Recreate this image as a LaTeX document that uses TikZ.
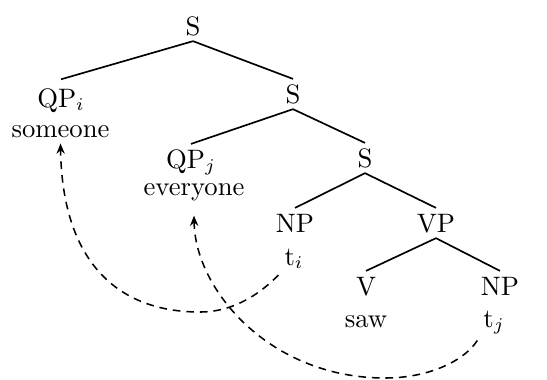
\documentclass[tikz,border=0pt]{standalone}
\usetikzlibrary{arrows.meta}
\begin{document}
\begin{tikzpicture}[x=0.39pt,y=-0.39pt,
  every node/.style={font=\fontsize{10.4}{12}\selectfont, inner sep=2.2pt},
  cat/.style={anchor=base, text height=7pt, text depth=0pt},
  word/.style={anchor=base},
  edge/.style={line width=0.65pt},
  move/.style={line width=0.6pt, dash pattern=on 3pt off 2.3pt, -{Stealth[length=4pt,width=3.2pt]}}]
\useasboundingbox (0,0) rectangle (547,379);
\node[cat] (S1) at (193,35) {S};
\node[cat] (QPi) at (61,107) {QP$_i$};
\node[word] (someone) at (60.5,137) {someone};
\node[cat] (S2) at (293,103) {S};
\node[cat] (QPj) at (191,168) {QP$_j$};
\node[word] (everyone) at (194,195) {everyone};
\node[cat] (S3) at (365,167) {S};
\node[cat] (NP1) at (295,232) {NP};
\node[word] (ti) at (294,265) {t$_i$};
\node[cat] (VP) at (436,232) {VP};
\node[cat] (V) at (366,295) {V};
\node[word] (saw) at (366,327) {saw};
\node[cat] (NP2) at (500,295) {NP};
\node[word] (tj) at (494,327) {t$_j$};
\draw[edge] (S1.south) -- ([yshift=1.4pt]QPi.north);
\draw[edge] (S1.south) -- (S2.north);
\draw[edge] (S2.south) -- (QPj.north);
\draw[edge] (S2.south) -- (S3.north);
\draw[edge] (S3.south) -- (NP1.north);
\draw[edge] (S3.south) -- (VP.north);
\draw[edge] (VP.south) -- (V.north);
\draw[edge] (VP.south) -- (NP2.north);
\draw[move] (ti.south west) .. controls (262,292) and (235,312) .. (200,312) .. controls (110,312) and (62,253) .. (someone.south);
\draw[move] (tj.south west) .. controls (465,360) and (430,378) .. (385,378) .. controls (270,378) and (195,290) .. ([yshift=-3.5pt]everyone.south);
\end{tikzpicture}
\end{document}
